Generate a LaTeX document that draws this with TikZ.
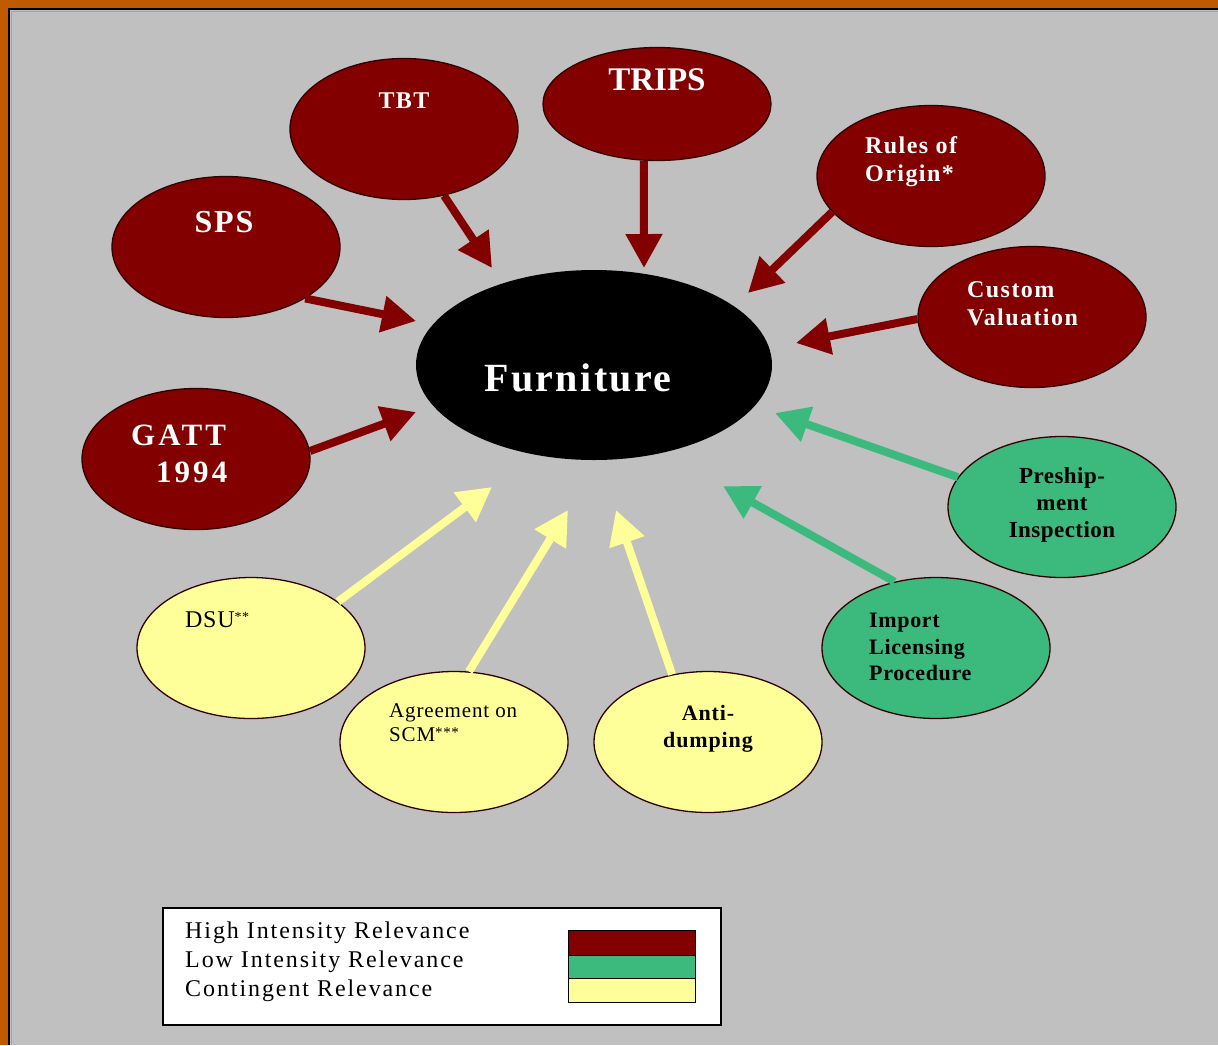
\documentclass[tikz,border=0pt]{standalone}
\usepackage{fontspec}
\setmainfont{Liberation Serif}
\usetikzlibrary{arrows.meta,shapes.geometric}
\definecolor{bgorange}{HTML}{C05A00}
\definecolor{bggray}{HTML}{C0C0C0}
\definecolor{hired}{HTML}{820000}
\definecolor{logreen}{HTML}{3CB97C}
\definecolor{coyel}{HTML}{FFFF99}
\definecolor{framegreen}{HTML}{7FB99A}
\tikzset{
  blob/.style={ellipse, draw=black!80!red, line width=1.3pt, inner sep=0pt,
               minimum width=228pt, minimum height=141pt},
  redblob/.style={blob, fill=hired},
  greenblob/.style={blob, fill=logreen},
  yelblob/.style={blob, fill=coyel},
  arr/.style={line width=8pt, -{Triangle[length=34pt,width=35pt]}},
  redarr/.style={arr, draw=hired, fill=hired},
  greenarr/.style={arr, draw=logreen, fill=logreen},
  yelarr/.style={arr, draw=coyel, fill=coyel},
  wtxt/.style={text=white, inner sep=0pt},
  btxt/.style={text=black, inner sep=0pt},
}
\newcommand{\fsz}[2]{\fontsize{#1}{#2}\selectfont}
\newcommand{\lsp}[1]{\addfontfeature{LetterSpace=#1}}
\begin{document}
\begin{tikzpicture}[x=1pt,y=-1pt]
\useasboundingbox (0,0) rectangle (1218,1045);
% frame
\fill[bgorange] (0,0) rectangle (1218,1045);
\fill[bggray] (9,9) rectangle (1218,1045);
\draw[framegreen, line width=1.5pt] (11.5,1045) -- (11.5,11.5) -- (1218,11.5);
\draw[black, line width=1.6pt] (9,1045) -- (9,9) -- (1218,9);

% central node
\node[ellipse, fill=black, minimum width=356pt, minimum height=190pt, inner sep=0pt] (furn) at (594,365) {};
\node[wtxt, font=\bfseries\fsz{40}{44}\lsp{6}] (furnt) at (578,378) {Furniture};

% high intensity
\node[redblob] (trips) at (657,104) [minimum height=113pt] {};
\node[wtxt, font=\bfseries\fsz{33}{36}] (tripst) at (657,80) {TRIPS};
\node[redblob] (tbt) at (404,129) {};
\node[wtxt, font=\bfseries\fsz{24}{26}\lsp{6}] (tbtt) at (404,101) {TBT};
\node[redblob] (sps) at (226,247) {};
\node[wtxt, font=\bfseries\fsz{32}{33}\lsp{6}] (spst) at (224,222) {SPS};
\node[redblob] (rules) at (931,176) {};
\node[wtxt, font=\bfseries\fsz{24}{28}\lsp{6}, align=left, anchor=west] (rulest) at (865,162) {Rules of\\Origin*};
\node[redblob] (cust) at (1032,317) {};
\node[wtxt, font=\bfseries\fsz{24}{28}\lsp{6}, align=left, anchor=west] (custt) at (967,304) {Custom\\Valuation};
\node[redblob] (gatt) at (196,459) {};
\node[wtxt, font=\bfseries\fsz{31}{37}\lsp{10}, align=left, anchor=west] (gattt) at (131,454) {GATT\\\hspace*{0.8em}1994};

% low intensity
\node[greenblob] (pre) at (1062,507) {};
\node[btxt, font=\bfseries\fsz{23}{27}\lsp{2}, align=center] (pret) at (1062,505) {Preship-\\ment\\Inspection};
\node[greenblob] (imp) at (936,648) {};
\node[btxt, font=\bfseries\fsz{22}{26.5}\lsp{3}, align=left, anchor=west] (impt) at (869,647) {Import\\Licensing\\Procedure};

% contingent
\node[yelblob] (dsu) at (251,648) {};
\node[btxt, font=\fsz{24}{28}\lsp{3}, anchor=west] (dsut) at (185,620) {DSU\raisebox{0.25em}{\fsz{14}{14}**}};
\node[yelblob] (scm) at (454,742) {};
\node[btxt, font=\fsz{21}{24}\lsp{4}, align=left, anchor=west] (scmt) at (389,723) {Agreement on\\SCM\raisebox{0.2em}{\fsz{15}{15}***}};
\node[yelblob] (anti) at (708,742) {};
\node[btxt, font=\bfseries\fsz{22}{27}\lsp{4}, align=center] (antit) at (708,729) {Anti-\\dumping};

% arrow tips
\coordinate (tTRIPS) at (644,268);
\coordinate (tTBT) at (492,268);
\coordinate (tSPS) at (416,321);
\coordinate (tRules) at (748,293);
\coordinate (tCust) at (796,343);
\coordinate (tGATT) at (416,412);
\coordinate (tPre) at (775,413);
\coordinate (tImp) at (723,486);
\coordinate (tDSU) at (492,487);
\coordinate (tSCM) at (568,510);
\coordinate (tAnti) at (616,510);

\draw[redarr] (trips.-103) -- (tTRIPS);
\draw[redarr] (tbt.-59) -- (tTBT);
\draw[redarr] (sps.-33) -- (tSPS);
\draw[redarr] (rules.200) -- (tRules);
\draw[redarr] (cust.181) -- (tCust);
\draw[redarr] (gatt.4) -- (tGATT);
\draw[greenarr] (pre.164) -- (tPre);
\draw[greenarr] (imp.122) -- (tImp);
\draw[yelarr] (dsu.28) -- (tDSU);
\draw[yelarr] (scm.78) -- (tSCM);
\draw[yelarr] (anti.118) -- (tAnti);

% legend
\node[draw=black, line width=1.2pt, fill=white, minimum width=558pt, minimum height=117pt, inner sep=0pt] (legend) at (442,966.5) {};
\node[btxt, font=\fsz{24}{29}\lsp{8}, align=left, anchor=west] (legt) at (185,962) {High Intensity Relevance\\Low Intensity Relevance\\Contingent Relevance};
\node[draw=black, line width=1pt, fill=hired, minimum width=127pt, minimum height=25pt, inner sep=0pt] (swr) at (631.5,942.5) {};
\node[draw=black, line width=1pt, fill=logreen, minimum width=127pt, minimum height=23pt, inner sep=0pt] (swg) at (631.5,966.5) {};
\node[draw=black, line width=1pt, fill=coyel, minimum width=127pt, minimum height=24pt, inner sep=0pt] (swy) at (631.5,990) {};
\end{tikzpicture}
\end{document}
